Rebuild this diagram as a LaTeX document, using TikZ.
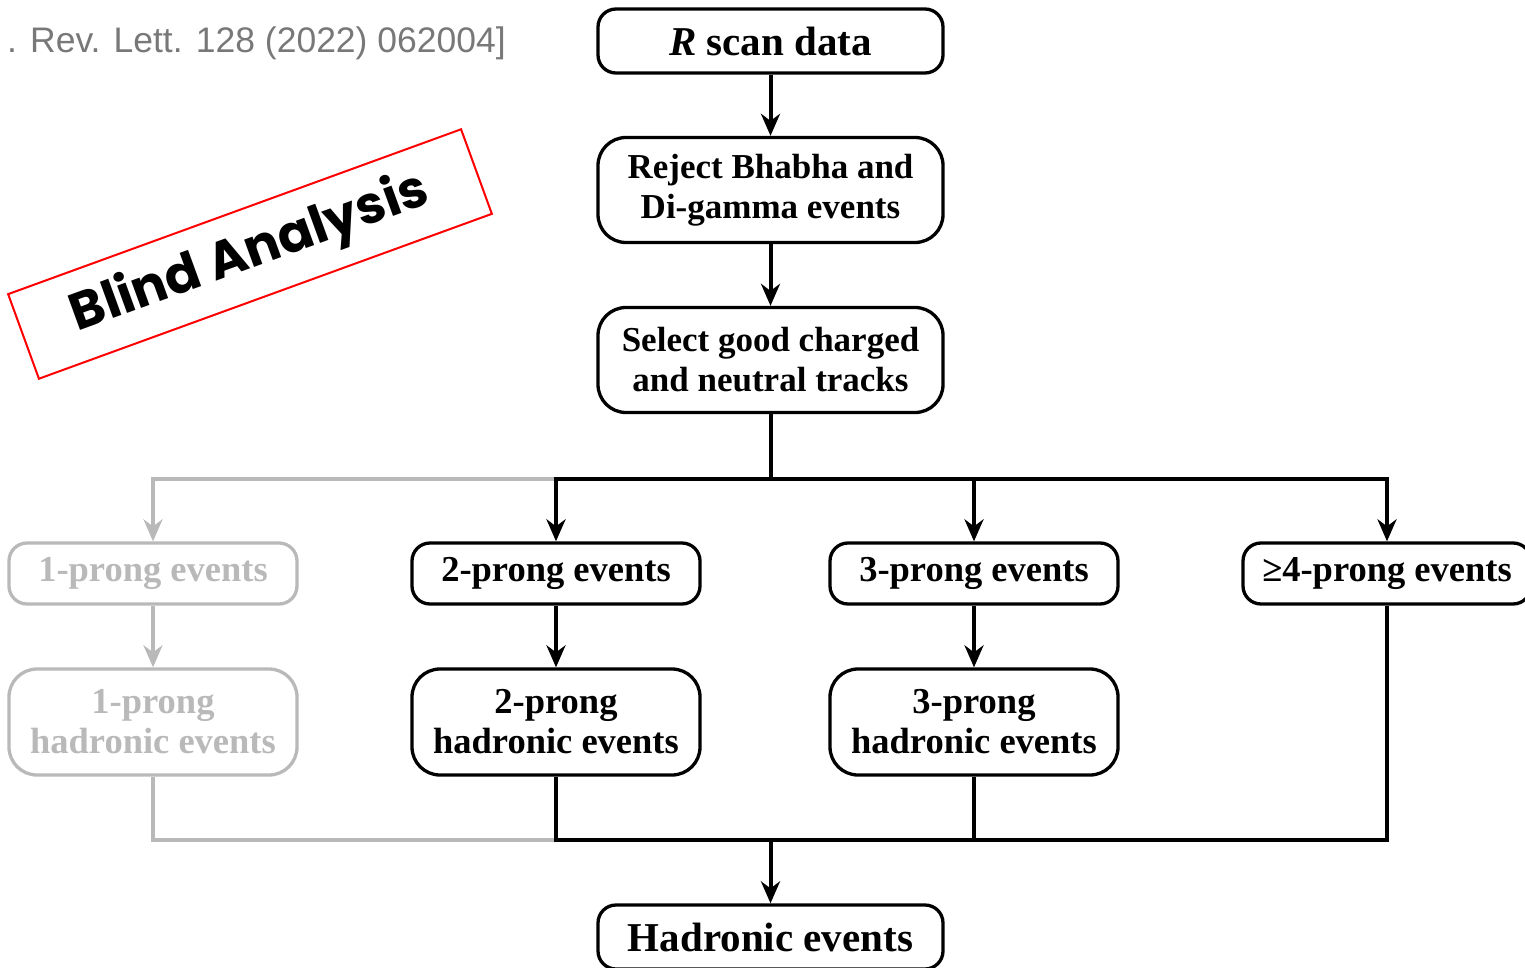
\documentclass[tikz,border=0pt]{standalone}
\usepackage{fontspec}
\setmainfont{Liberation Serif}
\newfontfamily\popfont{Poppins}
\newfontfamily\citefont{Liberation Sans}
\usetikzlibrary{arrows.meta}
\definecolor{lgray}{RGB}{185,185,185}
\definecolor{cit}{RGB}{120,120,120}
\tikzset{
  box/.style={draw, line width=3.3, rounded corners=18, minimum width=345, minimum height=64, inner sep=0, align=center, font=\bfseries\fontsize{41}{40}\selectfont},
  tallbox/.style={draw, line width=3.3, rounded corners=28, minimum width=345, minimum height=105, inner sep=0, align=center, font=\bfseries\fontsize{35}{40}\selectfont},
  pbox/.style={draw, line width=3.3, rounded corners=18, minimum width=288, minimum height=61, inner sep=0, align=center, font=\bfseries\fontsize{36.5}{40}\selectfont},
  hbox/.style={draw, line width=3.3, rounded corners=28, minimum width=288, minimum height=106, inner sep=0, align=center, font=\bfseries\fontsize{36.5}{40}\selectfont},
  faded/.style={draw=lgray, text=lgray},
  conn/.style={line width=4, draw=black},
  gconn/.style={line width=4, draw=lgray},
  arr/.style={conn, -{Stealth[length=22pt, width=19pt, inset=7pt]}},
  garr/.style={gconn, -{Stealth[length=22pt, width=19pt, inset=7pt]}},
}
\begin{document}
\begin{tikzpicture}[x=1pt,y=-1pt]
\useasboundingbox (0,0) rectangle (1525,968);
\node[anchor=east, text=cit, font=\citefont\fontsize{35.5}{38}\selectfont, inner sep=0] (cite) at (506,43) {. Rev. Lett. 128 (2022) 062004]};
\node[draw=red, line width=2, rotate=20, minimum width=482, minimum height=90, inner sep=0, font=\popfont\bfseries\fontsize{52}{56}\selectfont] (blind) at (250,254) {Blind Analysis};

\node[box] (rscan) at (770.5,41) {\textit{R} scan data};
\node[tallbox] (reject) at (770.5,190) {Reject Bhabha and\\Di-gamma events};
\node[tallbox] (select) at (770.5,360) {Select good charged\\and neutral tracks};

\node[pbox, faded] (p1) at (153,573.5) {1-prong events};
\node[pbox] (p2) at (556,573.5) {2-prong events};
\node[pbox] (p3) at (974,573.5) {3-prong events};
\node[pbox] (p4) at (1387,573.5) {≥4-prong events};

\node[hbox, faded] (h1) at (153,722) {1-prong\\hadronic events};
\node[hbox] (h2) at (556,722) {2-prong\\hadronic events};
\node[hbox] (h3) at (974,722) {3-prong\\hadronic events};

\node[box] (had) at (770.5,937) {Hadronic events};

\coordinate (top) at (770.5,479);
\coordinate (bot) at (770.5,840);

\draw[arr] (rscan) -- (reject);
\draw[arr] (reject) -- (select);

\draw[garr] (p2.north |- top) -| (p1.north);
\draw[garr] (p1) -- (h1);
\draw[gconn] (h1.south) |- (h2.south |- bot);

\draw[conn] (select.south) -- (top);
\draw[arr] (top) -| (p2.north);
\draw[arr] (top) -| (p4.north);
\draw[arr] (p3.north |- top) -- (p3.north);
\draw[arr] (p2) -- (h2);
\draw[arr] (p3) -- (h3);
\draw[conn] (h2.south) |- (p4.south |- bot) -- (p4.south);
\draw[conn] (h3.south) -- (h3.south |- bot);
\draw[arr] (bot) -- (had);
\end{tikzpicture}
\end{document}
